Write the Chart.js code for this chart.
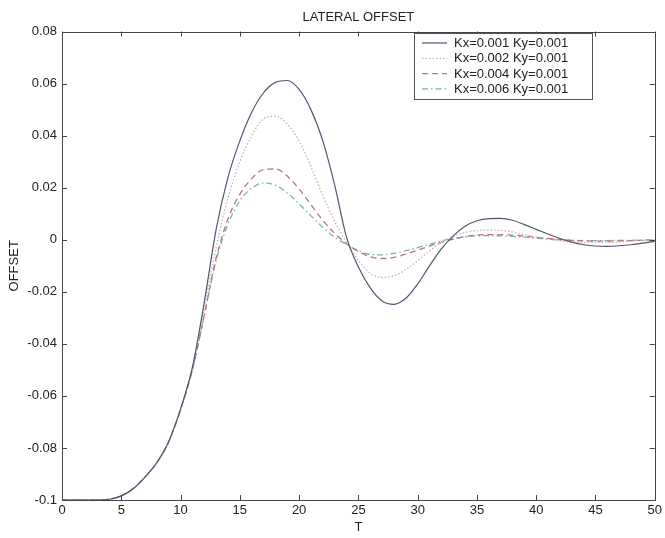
<!DOCTYPE html>
<html lang="en">

<head>
    <meta charset="UTF-8">
    <title>Lateral Offset</title>
    <style>
        body {
            margin: 0;
            background: #fff;
        }

        .container {
            width: 665px;
            height: 538px;
        }
    </style>
    <script src="https://cdn.jsdelivr.net/npm/chart.js"></script>
</head>

<body>
    <div class="container">
        <canvas id="myChart" width="665" height="538"></canvas>
    </div>

    <script>
        // time axis (T)
        const tValues = [0, 1, 2, 3, 4, 5, 6, 7, 8, 9, 10, 11, 12, 13, 14, 15, 16, 17, 18, 19, 20,
            21, 22, 23, 24, 25, 26, 27, 28, 29, 30, 31, 32, 33, 34, 35, 36, 37, 38, 39, 40,
            41, 42, 43, 44, 45, 46, 47, 48, 49, 50];

        const seriesLabels = ['Kx=0.001 Ky=0.001', 'Kx=0.002 Ky=0.001', 'Kx=0.004 Ky=0.001', 'Kx=0.006 Ky=0.001'];

        const offsetKx001 = [-0.1, -0.1, -0.1, -0.1, -0.0997, -0.0984, -0.0957, -0.0912, -0.0856, -0.0775, -0.065,
            -0.049, -0.024, 0.004, 0.024, 0.038, 0.049, 0.0565, 0.0605, 0.0612, 0.0578,
            0.050, 0.038, 0.021, 0.001, -0.0105, -0.0185, -0.0235, -0.0248, -0.0225, -0.017,
            -0.010, -0.0035, 0.0015, 0.0052, 0.0073, 0.0081, 0.0082, 0.0075, 0.0058, 0.004,
            0.0022, 0.0005, -0.0009, -0.0019, -0.0024, -0.0025, -0.0023, -0.0019, -0.0013, -0.0006];

        const offsetKx002 = [-0.1, -0.1, -0.1, -0.1, -0.0997, -0.0984, -0.0957, -0.0912, -0.0856, -0.0775, -0.065,
            -0.049, -0.026, -0.003, 0.016, 0.030, 0.040, 0.0465, 0.0475, 0.0445, 0.038,
            0.028, 0.017, 0.007, -0.001, -0.008, -0.0128, -0.0145, -0.0138, -0.0115, -0.008,
            -0.0043, -0.001, 0.0013, 0.0028, 0.0035, 0.0037, 0.0036, 0.003, 0.002, 0.001,
            0.0002, -0.0004, -0.0008, -0.001, -0.001, -0.001, -0.0008, -0.0006, -0.0003, -0.0001];

        const offsetKx004 = [-0.1, -0.1, -0.1, -0.1, -0.0997, -0.0984, -0.0957, -0.0912, -0.0857, -0.0777, -0.0653,
            -0.050, -0.029, -0.007, 0.008, 0.0175, 0.0235, 0.027, 0.0272, 0.0245, 0.0195,
            0.0135, 0.0075, 0.0025, -0.0015, -0.0045, -0.0065, -0.0072, -0.0068, -0.0055, -0.004,
            -0.0024, -0.001, 0.0003, 0.0012, 0.0018, 0.002, 0.002, 0.0018, 0.0014, 0.001,
            0.0005, 0.0001, -0.0002, -0.0004, -0.0005, -0.0005, -0.0004, -0.0003, -0.0002, -0.0001];

        const offsetKx006 = [-0.1, -0.1, -0.1, -0.1, -0.0997, -0.0984, -0.0957, -0.0912, -0.0857, -0.0777, -0.0653,
            -0.050, -0.029, -0.008, 0.006, 0.015, 0.0198, 0.0218, 0.021, 0.018, 0.0138,
            0.0092, 0.0048, 0.001, -0.0018, -0.0042, -0.0056, -0.0058, -0.0052, -0.0042, -0.003,
            -0.0017, -0.0005, 0.0005, 0.0011, 0.0015, 0.0016, 0.0015, 0.0013, 0.001, 0.0006,
            0.0003, 0, -0.0002, -0.0003, -0.0003, -0.0003, -0.0002, -0.0002, -0.0001, 0];

        const xTicks = [0, 5, 10, 15, 20, 25, 30, 35, 40, 45, 50];
        const yTicks = [-0.1, -0.08, -0.06, -0.04, -0.02, 0, 0.02, 0.04, 0.06, 0.08];

        const FONT = 'Arial, "Liberation Sans", sans-serif';

        function toPoints(values) {
            return values.map((v, i) => ({ x: tValues[i], y: v }));
        }

        // box around the plot + inward ticks, matlab style
        const boxPlugin = {
            id: 'boxPlugin',
            afterDraw(chart) {
                const ctx = chart.ctx;
                const a = chart.chartArea;
                const xs = chart.scales.x;
                const ys = chart.scales.y;
                ctx.save();
                ctx.strokeStyle = '#444';
                ctx.lineWidth = 1;
                ctx.strokeRect(Math.round(a.left) + 0.5, Math.round(a.top) + 0.5,
                    Math.round(a.right - a.left), Math.round(a.bottom - a.top));
                ctx.beginPath();
                xTicks.forEach(t => {
                    const px = Math.round(xs.getPixelForValue(t)) + 0.5;
                    ctx.moveTo(px, a.bottom); ctx.lineTo(px, a.bottom - 5);
                    ctx.moveTo(px, a.top); ctx.lineTo(px, a.top + 5);
                });
                yTicks.forEach(v => {
                    const py = Math.round(ys.getPixelForValue(v)) + 0.5;
                    ctx.moveTo(a.left, py); ctx.lineTo(a.left + 5, py);
                    ctx.moveTo(a.right, py); ctx.lineTo(a.right - 5, py);
                });
                ctx.stroke();

                // legend box
                const lx = 414, ly = 33, lw = 178, lh = 66;
                ctx.fillStyle = '#fff';
                ctx.fillRect(lx, ly, lw, lh);
                ctx.strokeStyle = '#555';
                ctx.strokeRect(lx + 0.5, ly + 0.5, lw, lh);
                ctx.font = '13px ' + FONT;
                ctx.textBaseline = 'middle';
                ctx.textAlign = 'left';
                chart.data.datasets.forEach((ds, i) => {
                    const yy = ly + 10 + i * 15.3;
                    ctx.strokeStyle = ds.borderColor;
                    ctx.lineWidth = ds.borderWidth;
                    ctx.setLineDash(ds.borderDash || []);
                    ctx.beginPath();
                    ctx.moveTo(lx + 8, yy);
                    ctx.lineTo(lx + 33, yy);
                    ctx.stroke();
                    ctx.setLineDash([]);
                    ctx.fillStyle = '#222';
                    ctx.fillText(ds.label, lx + 40, yy + 0.5);
                });
                ctx.restore();
            }
        };

        const ctx = document.getElementById('myChart').getContext('2d');
        const chart = new Chart(ctx, {
            type: 'line',
            data: {
                datasets: [{
                    label: seriesLabels[0],
                    data: toPoints(offsetKx001),
                    borderColor: '#4e5672',
                    borderWidth: 1.2
                }, {
                    label: seriesLabels[1],
                    data: toPoints(offsetKx002),
                    borderColor: '#c4b0b8',
                    borderWidth: 1.3,
                    borderDash: [1.5, 2]
                }, {
                    label: seriesLabels[2],
                    data: toPoints(offsetKx004),
                    borderColor: '#c07474',
                    borderWidth: 1.3,
                    borderDash: [6, 4]
                }, {
                    label: seriesLabels[3],
                    data: toPoints(offsetKx006),
                    borderColor: '#74b4b0',
                    borderWidth: 1.3,
                    borderDash: [6, 3, 1.5, 3]
                }]
            },
            options: {
                responsive: false,
                animation: false,
                elements: {
                    point: { radius: 0 },
                    line: { cubicInterpolationMode: 'monotone', fill: false }
                },
                layout: {
                    padding: { left: 0, right: 7, top: 0, bottom: 0 }
                },
                plugins: {
                    legend: { display: false },
                    tooltip: { enabled: false },
                    title: {
                        display: true,
                        text: 'LATERAL OFFSET',
                        fullSize: false,
                        color: '#222',
                        font: { family: FONT, size: 13, weight: 'normal' },
                        padding: { top: 10, bottom: 6 }
                    }
                },
                scales: {
                    x: {
                        type: 'linear',
                        min: 0,
                        max: 50,
                        afterFit: s => { s.height = 38; },
                        afterBuildTicks: s => { s.ticks = xTicks.map(v => ({ value: v })); },
                        grid: { display: false, drawTicks: false, tickLength: 0 },
                        border: { display: false },
                        ticks: {
                            color: '#222',
                            padding: 3,
                            maxRotation: 0,
                            font: { family: FONT, size: 13 },
                            callback: v => String(v)
                        },
                        title: {
                            display: true,
                            text: 'T',
                            color: '#222',
                            font: { family: FONT, size: 13 },
                            padding: { top: 0, bottom: 3 }
                        }
                    },
                    y: {
                        type: 'linear',
                        min: -0.1,
                        max: 0.08,
                        afterFit: s => { s.width = 62; },
                        afterBuildTicks: s => { s.ticks = yTicks.map(v => ({ value: v })); },
                        grid: { display: false, drawTicks: false, tickLength: 0 },
                        border: { display: false },
                        ticks: {
                            color: '#222',
                            padding: 5,
                            font: { family: FONT, size: 13 },
                            callback: v => String(Number(v.toFixed(2)))
                        },
                        title: {
                            display: true,
                            text: 'OFFSET',
                            color: '#222',
                            font: { family: FONT, size: 13 },
                            padding: { top: 7, bottom: 0 }
                        }
                    }
                }
            },
            plugins: [boxPlugin]
        });
    </script>
</body>

</html>
